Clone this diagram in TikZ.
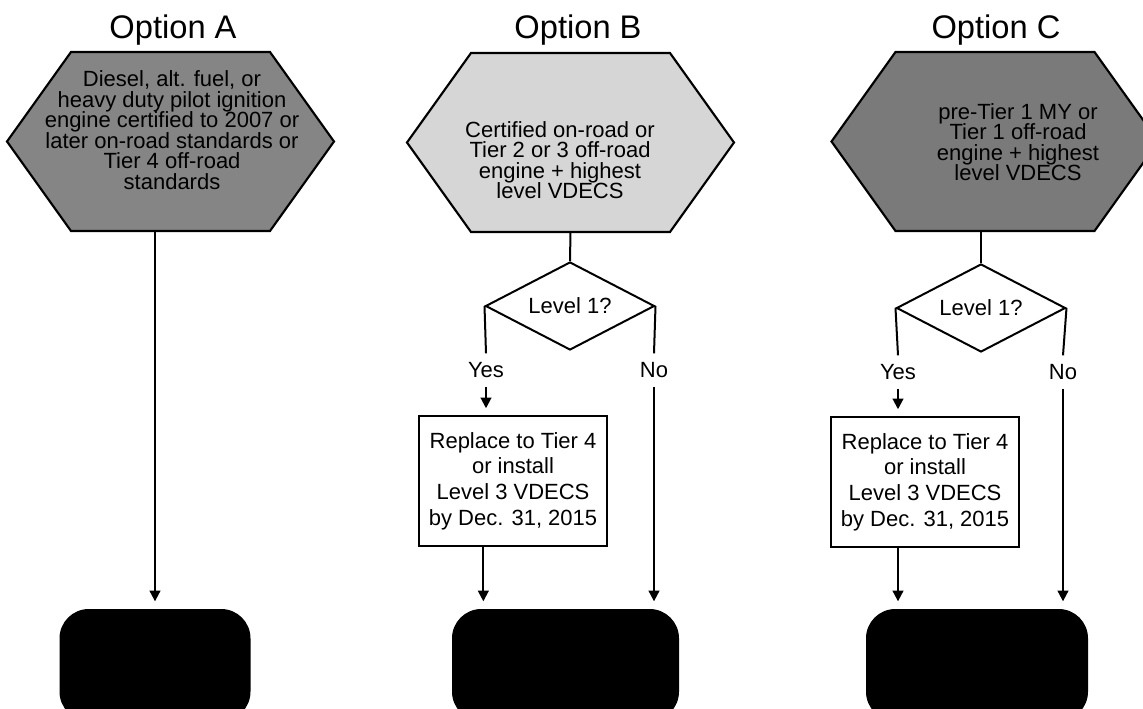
\documentclass[tikz,border=0pt]{standalone}
\usepackage{fontspec}
\setmainfont{Liberation Sans}
\usetikzlibrary{arrows.meta,shapes.geometric}

\definecolor{shadeA}{gray}{0.52}
\definecolor{shadeB}{gray}{0.84}
\definecolor{shadeC}{gray}{0.48}

\tikzset{every picture/.style={line width=1.5pt}}
\tikzset{
  hexbox/.style={rectangle, minimum width=243.75pt, minimum height=132.75pt, inner sep=0pt},
  hexline/.style={line width=1.6pt, line join=miter},
  hextext/.style={align=center, inner sep=0pt, font=\fontsize{16.5}{15.4}\selectfont},
  optiontitle/.style={font=\fontsize{24.5}{28}\selectfont},
  levelbox/.style={diamond, draw, aspect=1.92, minimum width=126.75pt, minimum height=66pt, inner sep=0pt, font=\fontsize{16.5}{19}\selectfont},
  answer/.style={inner xsep=2pt, inner ysep=6pt, font=\fontsize{16.5}{19}\selectfont},
  replacebox/.style={rectangle, draw, line width=1.6pt, minimum width=141pt, minimum height=97.5pt, align=center, inner sep=0pt, font=\fontsize{16.5}{19.3}\selectfont},
  endcap/.style={rectangle, rounded corners=22pt, fill=black, minimum height=84pt, inner sep=0pt},
  flow/.style={-{Triangle[length=8pt,width=8pt]}, shorten >=5pt}
}

\begin{document}
\begin{tikzpicture}[x=0.75pt,y=0.75pt,yscale=-1,xscale=1]
\useasboundingbox (0,0) rectangle (1143,709);
\clip (0,0) rectangle (1143,709);

% Text Node
\node[optiontitle] (titleA) at (173,30) {Option A};
% Text Node
\node[optiontitle] (titleB) at (578,30) {Option B};
% Text Node
\node[optiontitle] (titleC) at (996,30) {Option C};

%Shape: Hexagon
\node[hexbox] (hexA) at (170.5,141.5) {};
\draw[hexline, fill=shadeA] (hexA.west) -- ([xshift=48pt]hexA.north west) -- ([xshift=-48pt]hexA.north east) -- (hexA.east) -- ([xshift=-48pt]hexA.south east) -- ([xshift=48pt]hexA.south west) -- cycle;
\node[hexbox] (hexB) at (570.5,142.5) {};
\draw[hexline, fill=shadeB] (hexB.west) -- ([xshift=48pt]hexB.north west) -- ([xshift=-48pt]hexB.north east) -- (hexB.east) -- ([xshift=-48pt]hexB.south east) -- ([xshift=48pt]hexB.south west) -- cycle;
\node[hexbox] (hexC) at (995,141.5) {};
\draw[hexline, fill=shadeC] (hexC.west) -- ([xshift=48pt]hexC.north west) -- ([xshift=-48pt]hexC.north east) -- (hexC.east) -- ([xshift=-48pt]hexC.south east) -- ([xshift=48pt]hexC.south west) -- cycle;

% Text Node
\node[hextext] (textA) at (172,130) {Diesel, alt. fuel, or\\heavy duty pilot ignition\\engine certified to 2007 or\\later on-road standards or\\Tier 4 off-road\\standards};
% Text Node
\node[hextext] (textB) at (560,160) {Certified on-road or\\Tier 2 or 3 off-road\\engine + highest\\level VDECS};
% Text Node
\node[hextext] (textC) at (1018,142) {pre-Tier 1 MY or\\Tier 1 off-road\\engine + highest\\level VDECS};

%Shape: Diamond
\node[levelbox] (dB) at (570,306) {Level 1?};
\node[levelbox] (dC) at (981,308) {Level 1?};

% Text Node
\node[answer] (yesB) at (486,370) {Yes};
\node[answer] (noB) at (654,370) {No};
\node[answer] (yesC) at (898,372) {Yes};
\node[answer] (noC) at (1063,372) {No};

%Shape: Rectangle
\node[replacebox] (boxB) at (513,481) {Replace to Tier 4\\or install\\Level 3 VDECS\\by Dec. 31, 2015};
\node[replacebox] (boxC) at (925,482) {Replace to Tier 4\\or install\\Level 3 VDECS\\by Dec. 31, 2015};

%Shape: Terminal
\node[endcap, minimum width=143.25pt] (endA) at (155,665) {};
\node[endcap, minimum width=170.25pt] (endB) at (565.5,665) {};
\node[endcap, minimum width=166.5pt] (endC) at (977,665) {};

%Straight Lines
\draw[flow] (endA.north |- hexA.south) -- (endA.north);

\draw (hexB.south) -- (dB.north);
\draw (dB.west) -- (yesB.north);
\draw (dB.east) -- (noB.north);
\draw[flow] (yesB.south) -- (yesB.south |- boxB.north);
\draw[flow] ([xshift=-2pt]yesB.south |- boxB.south) -- ([xshift=-2pt]yesB.south |- endB.north);
\draw[flow] (noB.south) -- (noB.south |- endB.north);

\draw (dC.north |- hexC.south) -- (dC.north);
\draw (dC.west) -- (yesC.north);
\draw (dC.east) -- (noC.north);
\draw[flow] (yesC.south) -- (yesC.south |- boxC.north);
\draw[flow] (yesC.south |- boxC.south) -- (yesC.south |- endC.north);
\draw[flow] (noC.south) -- (noC.south |- endC.north);

\end{tikzpicture}
\end{document}
